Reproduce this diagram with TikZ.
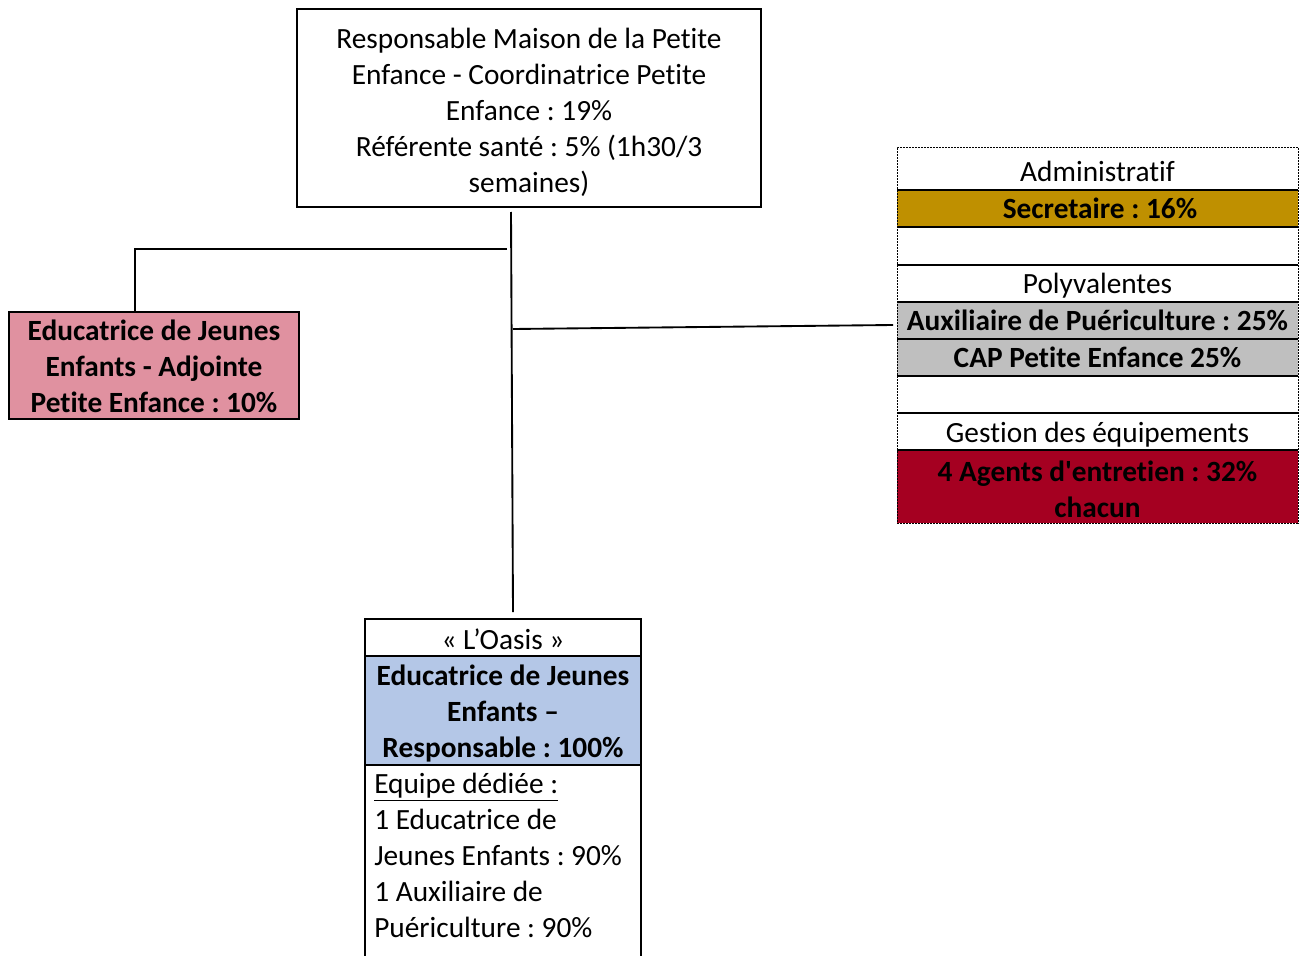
\documentclass[tikz,border=0pt]{standalone}
\usepackage{fontspec}
\setmainfont{Carlito}[Ligatures={NoCommon}]
\frenchspacing
\usetikzlibrary{calc}
\definecolor{pinkbox}{RGB}{224,145,160}
\definecolor{bluebox}{RGB}{180,199,231}
\definecolor{goldbox}{RGB}{191,144,0}
\definecolor{graybox}{RGB}{191,191,191}
\definecolor{redbox}{RGB}{165,0,33}
\tikzset{
  every node/.style={font=\fontsize{22}{27}\selectfont\frenchspacing, inner sep=0pt},
  boldtext/.style={font=\fontsize{22}{27}\selectfont\bfseries\frenchspacing},
  frame/.style={draw, line width=1.4pt, rectangle},
  conn/.style={line width=1.4pt},
  rowline/.style={line width=1.4pt},
  dotframe/.style={line width=0.7pt, dash pattern=on 1.5pt off 0.75pt},
  rowtext/.style={align=center, text height=15pt, text depth=5pt},
}
\begin{document}
\begin{tikzpicture}[x=0.75pt, y=-0.75pt]
\useasboundingbox (0,0) rectangle (1304,956);

% Top box
\node[frame, minimum width=348pt, minimum height=148.5pt] (top) at (529,108) {};
\node[align=center] (toptext) at (529,112) {Responsable Maison de la Petite\\Enfance - Coordinatrice Petite\\Enfance : 19\%\\Référente santé : 5\% (1h30/3\\semaines)};

% Left box
\node[frame, fill=pinkbox, minimum width=217.5pt, minimum height=80.25pt] (left) at (154,365.5) {};
\node[align=center, boldtext] (lefttext) at (154,366) {Educatrice de Jeunes\\Enfants - Adjointe\\Petite Enfance : 10\%};

% Right group
\fill[goldbox] (897,190) rectangle (1298,227);
\fill[graybox] (897,302) rectangle (1298,376);
\fill[redbox] (897,450) rectangle (1298,523);
\node[dotframe, draw, minimum width=300.75pt, minimum height=282pt] (right) at (1097.5,335) {};
\foreach \yy in {190,227,265,302,339,376,413,450}
  \draw[rowline] (897,\yy) -- (1298,\yy);
\node[rowtext] (adm) at (1097.5,175) {Administratif};
\node[rowtext, boldtext] (sec) at (1100,212) {Secretaire : 16\%};
\node[rowtext] (poly) at (1097.5,287) {Polyvalentes};
\node[rowtext, boldtext] (aux) at (1097.5,324) {Auxiliaire de Puériculture : 25\%};
\node[rowtext, boldtext] (cap) at (1097.5,361) {CAP Petite Enfance 25\%};
\node[rowtext] (gest) at (1097.5,436) {Gestion des équipements};
\node[align=center, boldtext] (agents) at (1097.5,489) {4 Agents d\textquotesingle entretien : 32\%\\chacun};

% Bottom box
\fill[bluebox] (365,656) rectangle (641,765);
\draw[line width=1.4pt] (365,956) -- (365,619) -- (641,619) -- (641,956);
\draw[rowline] (365,656) -- (641,656);
\draw[rowline] (365,765) -- (641,765);
\node (oasis) at (503,639) {« L’Oasis »};
\node[align=center, boldtext] (ejer) at (503,714) {Educatrice de Jeunes\\Enfants –\\Responsable : 100\%};
\node[align=left, anchor=north west] (equipe) at (374,773) {\underline{Equipe dédiée :}\\1 Educatrice de\\Jeunes Enfants : 90\%\\1 Auxiliaire de\\Puériculture : 90\%};

% Connectors
\coordinate (vtop) at (511,212);
\coordinate (vbot) at (513,612);
\coordinate (lj) at (507,249);
\coordinate (rj) at (513,329);
\coordinate (rend) at (893,325);
\draw[conn] (vtop) -- (vbot);
\draw[conn] (lj) -- (135,249) -- (left.north -| 135,0);
\draw[conn] (rj) -- (rend);
\end{tikzpicture}
\end{document}
